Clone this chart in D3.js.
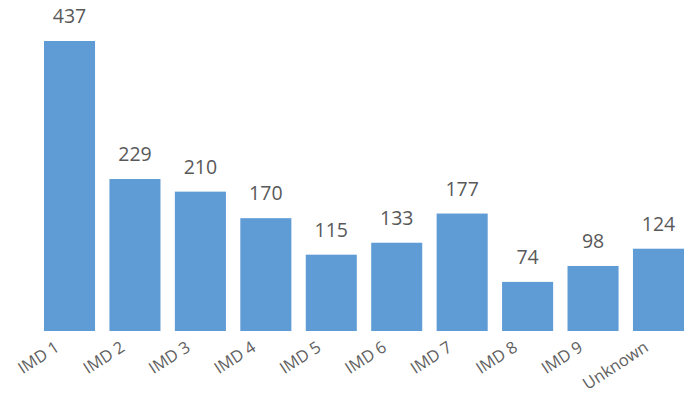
<!DOCTYPE html>
<html>
<head>
<meta charset="utf-8">
<script src="https://cdn.jsdelivr.net/npm/d3@7"></script>
<style>
  html, body { margin: 0; padding: 0; background: #fff; }
  svg { display: block; }
</style>
</head>
<body>
<svg id="chart" width="689" height="395"></svg>
<script>
// Counts per deprivation decile
const categories = ["IMD 1", "IMD 2", "IMD 3", "IMD 4", "IMD 5", "IMD 6", "IMD 7", "IMD 8", "IMD 9", "Unknown"];
const counts = [437, 229, 210, 170, 115, 133, 177, 74, 98, 124];

const svg = d3.select("#chart");
const baseline = 331;
const plotTop = 41;

const x = d3.scaleBand()
  .domain(categories)
  .range([44, 684])
  .paddingInner(0.22)
  .paddingOuter(0);

const y = d3.scaleLinear()
  .domain([0, 437])
  .range([baseline, plotTop]);

const data = categories.map((c, i) => ({ cat: c, value: counts[i] }));

svg.append("g")
  .selectAll("rect")
  .data(data)
  .join("rect")
  .attr("x", d => x(d.cat))
  .attr("y", d => y(d.value))
  .attr("width", x.bandwidth())
  .attr("height", d => baseline - y(d.value))
  .attr("fill", "#5f9bd5");

// Value labels above each bar
svg.append("g")
  .selectAll("text")
  .data(data)
  .join("text")
  .attr("x", d => x(d.cat) + x.bandwidth() / 2)
  .attr("y", d => y(d.value) - 18)
  .attr("text-anchor", "middle")
  .attr("font-family", "'Open Sans', sans-serif")
  .attr("font-size", 19.5)
  .attr("fill", "#595959")
  .text(d => d.value);

// Category axis with slanted labels
const axis = svg.append("g")
  .attr("transform", `translate(0,${baseline})`)
  .call(d3.axisBottom(x).tickSize(0).tickPadding(0));
axis.select(".domain").remove();
axis.selectAll("text")
  .attr("font-family", "'Open Sans', sans-serif")
  .attr("font-size", 16.5)
  .attr("fill", "#606060")
  .attr("text-anchor", "end")
  .attr("dy", null)
  .attr("y", 0)
  .attr("transform", "translate(-9,19) rotate(-33)");
</script>
</body>
</html>
